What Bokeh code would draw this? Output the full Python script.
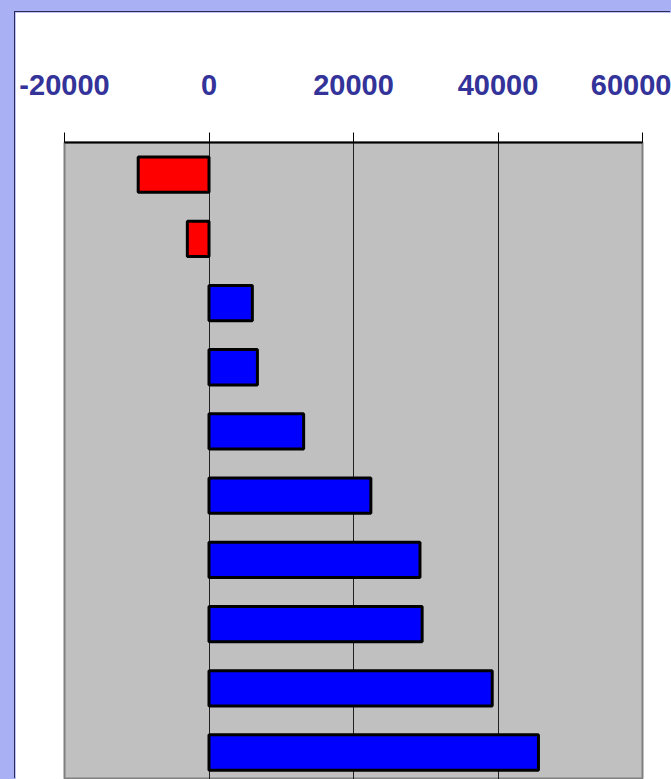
from bokeh.plotting import figure
from bokeh.models import Range1d, FixedTicker, GlobalInlineStyleSheet
from bokeh.embed import file_html
from bokeh.resources import INLINE

# ---- data ----
categories = ["1", "2", "3", "4", "5", "6", "7", "8", "9", "10"]
values = [-9800, -3000, 6000, 6700, 13100, 22400, 29200, 29500, 39200, 45600]
tick_values = [-20000, 0, 20000, 40000, 60000]
tick_labels = ["-20000", "0", "20000", "40000", "60000"]

positions = list(range(1, len(categories) + 1))
colors = ["#FF0000" if v < 0 else "#0000FF" for v in values]

p = figure(
    width=656, height=767,
    x_range=Range1d(-20000, 60000),
    y_range=Range1d(10.42, 0.5),
    x_axis_location="above",
    output_backend="svg", toolbar_location=None, tools="",
    min_border_left=49, min_border_right=29, min_border_top=130, min_border_bottom=0,
)
p.styles = {"margin-left": "15px", "margin-top": "12px",
            "box-shadow": "-1px -1px 0 0 #2b2b55"}
p.stylesheets = [GlobalInlineStyleSheet(css="body{background:#a9b1f4;}")]

p.background_fill_color = "#C0C0C0"
p.border_fill_color = "#FFFFFF"
p.outline_line_color = "#808080"
p.outline_line_width = 2

p.hbar(y=positions, left=0, right=values, height=0.55,
       fill_color=colors, line_color="#000000", line_width=3)

xa = p.xaxis[0]
xa.ticker = FixedTicker(ticks=tick_values)
xa.major_label_overrides = dict(zip(tick_values, tick_labels))
xa.minor_tick_line_color = None
xa.major_tick_in = 0
xa.major_tick_out = 10
xa.major_tick_line_color = "#000000"
xa.major_tick_line_width = 1
xa.axis_line_color = "#000000"
xa.axis_line_width = 2
xa.major_label_standoff = 38
xa.major_label_text_font = "Liberation Sans"
xa.major_label_text_font_style = "bold"
xa.major_label_text_font_size = "29px"
xa.major_label_text_color = "#333399"

p.yaxis.visible = False
p.ygrid.visible = False
p.xgrid.ticker = FixedTicker(ticks=tick_values)
p.xgrid.grid_line_color = "#202020"
p.xgrid.grid_line_width = 1

open("out.html", "w").write(file_html(p, INLINE))
